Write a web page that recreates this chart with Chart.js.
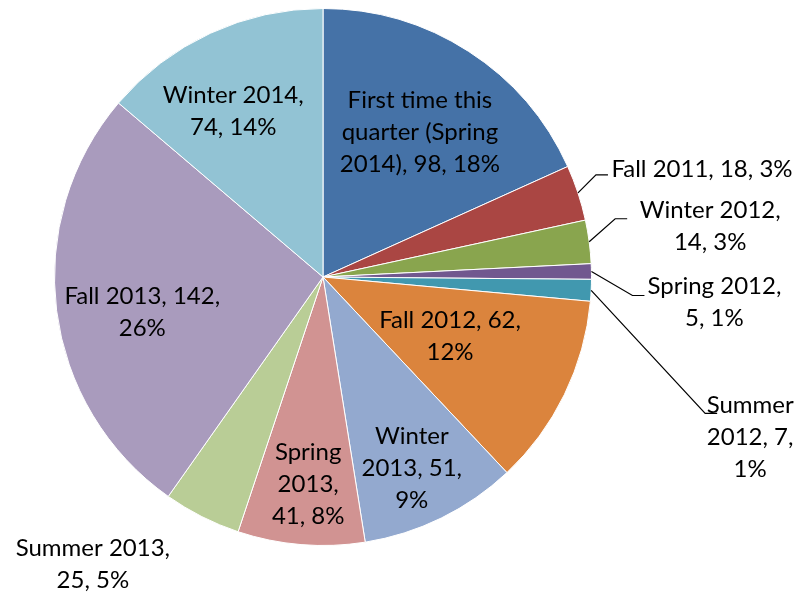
<!DOCTYPE html>
<html>
<head>
<meta charset="utf-8">
<script src="https://cdn.jsdelivr.net/npm/chart.js@4.4.1/dist/chart.umd.min.js"></script>
<style>
    body{margin:0;background:#fff;}
    #grafTrimestres{display:block;}
</style>
</head>
<body>
<canvas id="grafTrimestres" width="801" height="598"></canvas>
<script>
let categorias = ['First time this quarter (Spring 2014)','Fall 2011','Winter 2012','Spring 2012','Summer 2012','Fall 2012','Winter 2013','Spring 2013','Summer 2013','Fall 2013','Winter 2014']
let cantidades = [98,18,14,5,7,62,51,41,25,142,74]
let colores = ['#4572A7','#AA4643','#89A54E','#71588F','#4198AF','#DB843D','#93A9CF','#D19392','#B9CD96','#A99BBD','#92C3D4']

// palabras por linea en cada etiqueta
let cortes = [[3,2,3],[5],[2,2],[2,2],[1,2,1],[3,1],[1,2,1],[1,1,2],[2,2],[3,1],[2,2]]

// dentro: factor del radio y giro en grados; fuera: desplazamiento desde el borde del sector
let ubicacion = [
    {dentro:0.648, giro:1},
    {texto:[124,-24], codo:[18,-18]},
    {texto:[121,-15], codo:[26,-23]},
    {texto:[123,31], codo:[41,24]},
    {texto:[159,147], codo:[114,123]},
    {dentro:0.522, giro:-1},
    {dentro:0.784, giro:1.2},
    {dentro:0.773, giro:-0.6},
    {texto:[-109,48]},
    {dentro:0.686, giro:-3.9},
    {dentro:0.703, giro:-3.6},
]

document.addEventListener('DOMContentLoaded',()=>{

    let total = cantidades.reduce((a,b)=>a+b,0)

    function lineasEtiqueta(i)
    {
        let pct = Math.round(cantidades[i]/total*100)
        let palabras = `${categorias[i]}, ${cantidades[i]}, ${pct}%`.split(' ')
        let lineas = []
        let k = 0
        cortes[i].forEach(n => {
            lineas.push(palabras.slice(k,k+n).join(' '))
            k += n
        })
        return lineas
    }

    let etiquetas = {
        id:'etiquetas',
        afterDatasetsDraw(chart)
        {
            let ctx = chart.ctx
            let meta = chart.getDatasetMeta(0)
            let altoLinea = 32
            ctx.save()
            ctx.font = '24px Lato'
            ctx.fillStyle = '#000'
            ctx.strokeStyle = '#000'
            ctx.lineWidth = 1.2
            ctx.textAlign = 'center'
            ctx.textBaseline = 'middle'
            meta.data.forEach((arco,i) => {
                let p = arco.getProps(['x','y','startAngle','endAngle','outerRadius'],true)
                let medio = (p.startAngle+p.endAngle)/2
                let u = ubicacion[i]
                let bx = p.x + Math.cos(medio)*p.outerRadius
                let by = p.y + Math.sin(medio)*p.outerRadius
                let cx, cy
                if(u.dentro)
                {
                    let a = medio + u.giro*Math.PI/180
                    cx = p.x + Math.cos(a)*p.outerRadius*u.dentro
                    cy = p.y + Math.sin(a)*p.outerRadius*u.dentro
                }
                else
                {
                    cx = bx + u.texto[0]
                    cy = by + u.texto[1]
                    if(u.codo)
                    {
                        ctx.beginPath()
                        ctx.moveTo(bx,by)
                        ctx.lineTo(bx+u.codo[0],by+u.codo[1])
                        ctx.lineTo(bx+u.codo[0]+12,by+u.codo[1])
                        ctx.stroke()
                    }
                }
                let lineas = lineasEtiqueta(i)
                lineas.forEach((t,k) => {
                    ctx.fillText(t,cx,cy+(k-(lineas.length-1)/2)*altoLinea)
                })
            })
            ctx.restore()
        }
    }

    let grafTrimestres = document.getElementById('grafTrimestres')

    new Chart(grafTrimestres,{
        type:'pie',
        plugins:[etiquetas],
        options:{
            responsive:false,
            animation:false,
            layout:{
                padding:{left:54,right:209,top:8,bottom:52},
            },
            plugins:{
                legend:{display:false},
                tooltip:{enabled:false},
            },
        },
        data:{
            labels:categorias,
            datasets:[{
                data:cantidades,
                backgroundColor:colores,
                borderColor:'#ffffff',
                borderWidth:1,
            }]
        }
    })
})
</script>
</body>
</html>
